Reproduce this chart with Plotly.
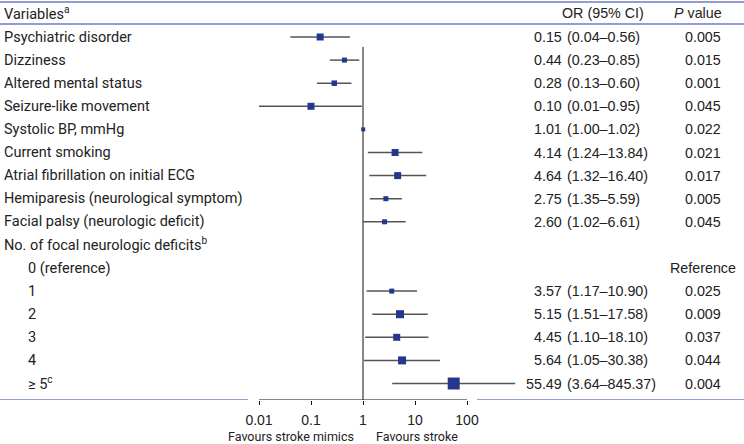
import plotly.graph_objects as go

# ---------------- data ----------------
labels = ["Psychiatric disorder", "Dizziness", "Altered mental status", "Seizure-like movement",
          "Systolic BP, mmHg", "Current smoking", "Atrial fibrillation on initial ECG",
          "Hemiparesis (neurological symptom)", "Facial palsy (neurologic deficit)",
          "No. of focal neurologic deficits<sup>b</sup>", "0 (reference)", "1", "2", "3", "4",
          "≥ 5<sup>c</sup>"]
indented = [False] * 10 + [True] * 6
odds_ratio = [0.15, 0.44, 0.28, 0.10, 1.01, 4.14, 4.64, 2.75, 2.60, None, None,
              3.57, 5.15, 4.45, 5.64, 55.49]
ci_low = [0.04, 0.23, 0.13, 0.01, 1.00, 1.24, 1.32, 1.35, 1.02, None, None,
          1.17, 1.51, 1.10, 1.05, 3.64]
ci_high = [0.56, 0.85, 0.60, 0.95, 1.02, 13.84, 16.40, 5.59, 6.61, None, None,
           10.90, 17.58, 18.10, 30.38, 845.37]
p_values = ["0.005", "0.015", "0.001", "0.045", "0.022", "0.021", "0.017", "0.005", "0.045",
            "", "Reference", "0.025", "0.009", "0.037", "0.044", "0.004"]
tick_vals = [0.01, 0.1, 1, 10, 100]
tick_text = ["0.01", "0.1", "1", "10", "100"]

# ---------------- style ----------------
marker_px = [7, 5, 5.5, 7, 4, 7, 7, 5, 5, 0, 0, 5, 8, 7, 8, 12]
W, H = 744, 444
ROW0, STEP = 37.0, 23.1          # pixel centre of first row, row pitch
AXIS_PX = 400.0                  # pixel y of x axis line
X1_PX, DEC_PX = 363.0, 52.0      # pixel x of OR = 1, pixels per decade
BLUE = "#26368f"
RULE = "#6f7cc6"
TXT = "#222222"
LAB_FONT = "Roboto"
NUM_FONT = "Liberation Sans"
LAB_SIZE = 14.5
NUM_SIZE = 14.3


def row_of(px):
    return (px - ROW0) / STEP


def xp(px):
    return px / W


n = len(labels)
rows = list(range(n))

fig = go.Figure()

# CI lines
cx, cy = [], []
for i in rows:
    if odds_ratio[i] is not None:
        cx += [ci_low[i], ci_high[i], None]
        cy += [i, i, None]
fig.add_trace(go.Scatter(x=cx, y=cy, mode="lines", line=dict(color="#555555", width=1.5),
                         hoverinfo="skip", showlegend=False))

# reference line at OR = 1
fig.add_trace(go.Scatter(x=[1, 1], y=[0.43, row_of(AXIS_PX)], mode="lines",
                         line=dict(color="#111111", width=1), hoverinfo="skip", showlegend=False))

# point estimates
mi = [i for i in rows if odds_ratio[i] is not None]
fig.add_trace(go.Scatter(x=[odds_ratio[i] for i in mi], y=mi, mode="markers",
                         marker=dict(symbol="square", color=BLUE, size=[marker_px[i] for i in mi],
                                     opacity=1, line=dict(width=0)),
                         cliponaxis=False, showlegend=False))

shapes = []
# axis line from 0.01 to 100
shapes.append(dict(type="line", xref="x", yref="y", x0=tick_vals[0], x1=tick_vals[-1],
                   y0=row_of(AXIS_PX), y1=row_of(AXIS_PX), line=dict(color="#111111", width=1)))
# table rules
for (a, b, y) in [(0, W, 2), (0, W, 24), (0, 248, AXIS_PX), (477, W, AXIS_PX)]:
    shapes.append(dict(type="line", xref="paper", yref="y", x0=xp(a), x1=xp(b),
                       y0=row_of(y), y1=row_of(y), line=dict(color=RULE, width=1.5)))

ann = []


def add_text(text, x_px, y_row, anchor="left", font=LAB_FONT, size=LAB_SIZE, yref="y"):
    ann.append(dict(text=text, x=xp(x_px), y=y_row, xref="paper", yref=yref,
                    xanchor=anchor, yanchor="middle", showarrow=False, borderpad=0,
                    font=dict(family=font, size=size, color=TXT)))


# header
hy = row_of(13)
add_text("Variables<sup>a</sup>", 3, hy)
add_text("OR (95% CI)", 603, hy, anchor="center", font=NUM_FONT, size=NUM_SIZE)
add_text("<i>P</i> value", 698, hy, anchor="center", font=NUM_FONT, size=NUM_SIZE)

for i in rows:
    add_text(labels[i], 27 if indented[i] else 3, i)
    if odds_ratio[i] is not None:
        add_text(f"{odds_ratio[i]:.2f}", 563, i, anchor="right", font=NUM_FONT, size=NUM_SIZE)
        add_text(f"({ci_low[i]:.2f}–{ci_high[i]:.2f})", 566, i, anchor="left",
                 font=NUM_FONT, size=NUM_SIZE)
    if p_values[i]:
        add_text(p_values[i], 703, i, anchor="center", font=NUM_FONT, size=NUM_SIZE)

# favours labels
add_text("Favours stroke mimics", 291, 1 - 436.5 / H, anchor="center", size=12.5, yref="paper")
add_text("Favours stroke", 417, 1 - 436.5 / H, anchor="center", size=12.5, yref="paper")

fig.update_layout(
    width=W, height=H, margin=dict(l=0, r=0, t=0, b=0),
    paper_bgcolor="white", plot_bgcolor="white",
    shapes=shapes, annotations=ann, showlegend=False,
    xaxis=dict(type="log", range=[-X1_PX / DEC_PX, (W - X1_PX) / DEC_PX], domain=[0, 1],
               tickvals=tick_vals, ticktext=tick_text, ticks="outside", ticklen=4,
               tickwidth=1, tickcolor="#111111", showgrid=False, zeroline=False,
               showline=False, ticklabelstandoff=3,
               tickfont=dict(family=NUM_FONT, size=14, color=TXT)),
    yaxis=dict(range=[row_of(AXIS_PX), row_of(0)], domain=[1 - AXIS_PX / H, 1],
               visible=False, showgrid=False, zeroline=False),
)

fig.write_html("out.html", config={"displayModeBar": False},
               post_script="document.body.style.margin='0';document.body.style.padding='0';")
